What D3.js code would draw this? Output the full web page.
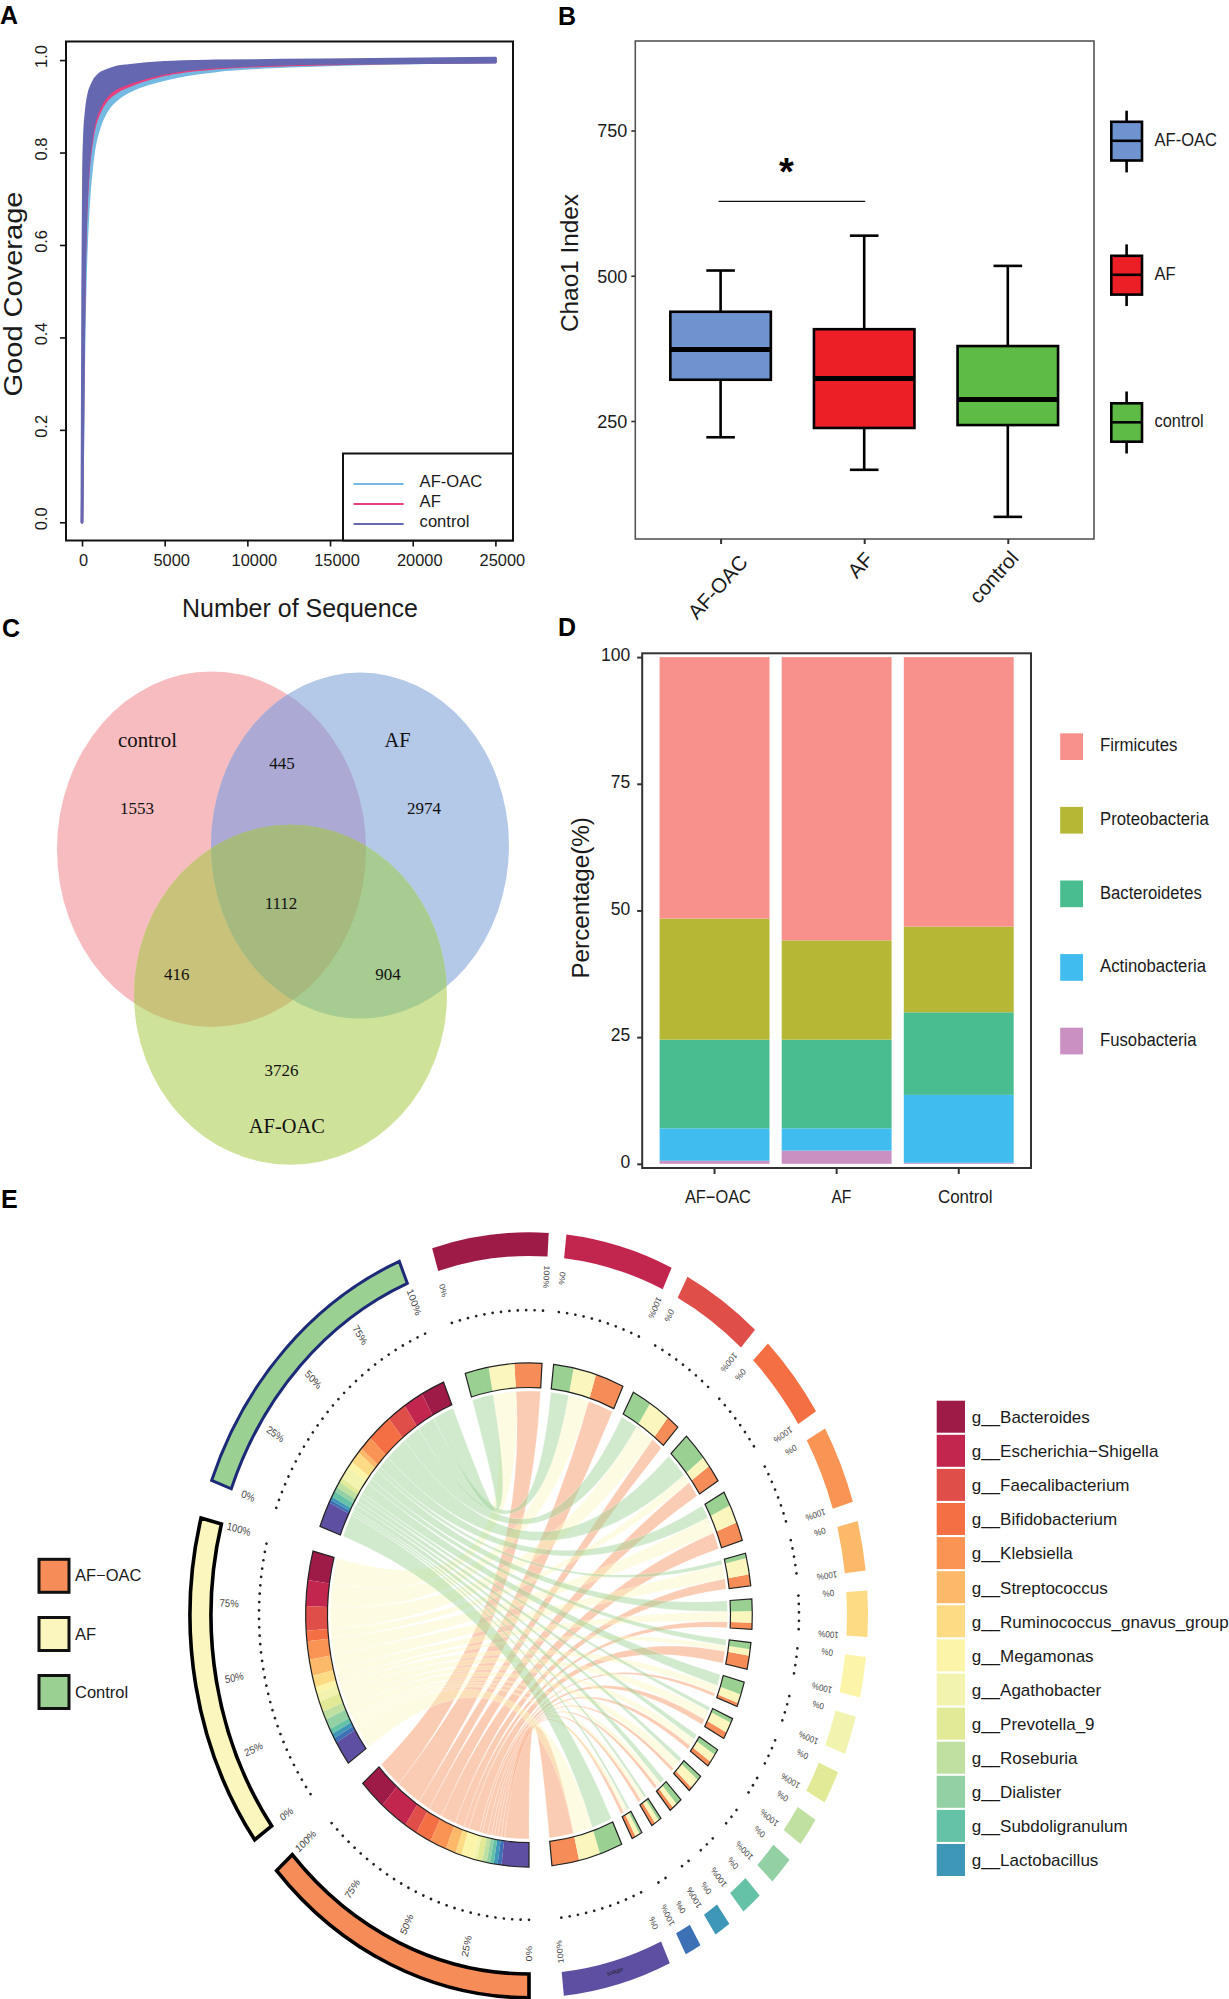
<!DOCTYPE html>
<html><head><meta charset="utf-8">
<script src="https://cdn.jsdelivr.net/npm/d3@7"></script>
<style>html,body{margin:0;padding:0;background:#fff}svg{display:block}</style>
</head><body><svg id="c" width="1229" height="1999" viewBox="0 0 1229 1999"></svg>
<script>
// ---------- DATA ----------
const rareDepth=[0,50,100,150,250,390,650,1080,1500,2160,2800,5000,8000,14500,25000];
const rareControlHigh=[0,.5,.76,.83,.885,.922,.95,.97,.977,.985,.988,.995,.998,1.0,1.004];
const rareControlLow=[0,.22,.42,.55,.69,.775,.85,.9,.923,.941,.95,.972,.985,.993,.996];
const rareAFLow=[0,.2,.39,.52,.66,.755,.835,.888,.913,.932,.943,.968,.982,.991,.996];
const rareOACLow=[0,.15,.31,.43,.57,.68,.785,.857,.89,.916,.931,.958,.976,.989,.996];
const rareLegend=["AF-OAC","AF","control"];
const rareXTicks=[0,5000,10000,15000,20000,25000];
const rareYTicks=[0,.2,.4,.6,.8,1];

const boxNames=["AF-OAC","AF","control"];
const boxWhiskLow=[222,166,85];
const boxQ1=[321,238,243];
const boxMedian=[373,323,287];
const boxQ3=[438,408,379];
const boxWhiskHigh=[509,569,517];
const boxYTicks=[250,500,750];
const sigLevel=628;

const vennLabels=["control","AF","AF-OAC"];
const vennCounts=[1553,445,2974,1112,416,904,3726];

const phylumNames=["Firmicutes","Proteobacteria","Bacteroidetes","Actinobacteria","Fusobacteria"];
const phylumGroups=["AF-OAC","AF","Control"];
const firmicutes=[51.6,55.9,53.2];
const proteobacteria=[23.9,19.6,16.9];
const bacteroidetes=[17.5,17.5,16.3];
const actinobacteria=[6.4,4.4,13.4];
const fusobacteria=[.6,2.6,.2];
const pctTicks=[0,25,50,75,100];

const chordGroups=["AF-OAC","AF","Control"];
const genera=["g__Bacteroides","g__Escherichia\u2212Shigella","g__Faecalibacterium","g__Bifidobacterium","g__Klebsiella","g__Streptococcus","g__Ruminococcus_gnavus_group","g__Megamonas","g__Agathobacter","g__Prevotella_9","g__Roseburia","g__Dialister","g__Subdoligranulum","g__Lactobacillus","","others"];
const genusControl=[6.15,5.2,5,6.5,3.35,1.15,2.75,1.55,2.95,1.05,1.35,1.1,1.45,.75,.7,5.95];
const genusAF=[6.7,5.95,5.6,2.45,4.25,3.75,2.65,1.45,2.05,2.45,1.95,2.35,1.25,1.1,1.15,5.6];
const genusOAC=[7.1,7.4,3.35,4.1,4.35,2.65,1.55,3.15,.85,1.55,1.15,.9,.95,1,1,7.1];
const genusColors=["#9f1b47","#c2264f","#e04e4a","#f46f43","#f99454","#fdb96a","#fddb84","#fcf5a9","#f3f3b0","#e3ea97","#bfe0a1","#93d0a3","#66c2a6","#3f97b8","#3d71b5","#5e4fa2"];
const groupColors=["#f68d59","#fbf6bd","#9ad193"];
const groupBorders=["#000","#000","#1c2a78"];

// ---------- HELPERS ----------
const svg=d3.select("#c");
const SANS="'Liberation Sans',Arial,sans-serif", SERIF="'Liberation Serif','Times New Roman',serif";
function T(g,x,y,s,o={}){
  const t=g.append("text").attr("x",x).attr("y",y).text(s)
    .attr("font-family",o.fam||SANS).attr("font-size",o.size||16)
    .attr("fill",o.fill||"#1a1a1a").attr("text-anchor",o.anchor||"start");
  if(o.weight)t.attr("font-weight",o.weight);
  if(o.dy)t.attr("dy",o.dy);
  if(o.len)t.attr("textLength",o.len).attr("lengthAdjust","spacingAndGlyphs");
  if(o.rot!==undefined)t.attr("transform",`rotate(${o.rot} ${x} ${y})`);
  return t;
}
function styleAxis(a,w,c){
  a.select(".domain").remove();
  a.selectAll(".tick line").attr("stroke",c).attr("stroke-width",w);
  a.selectAll("text").attr("font-family",SANS).attr("fill","#1a1a1a");
}
[["A",0,24],["B",558,24.5],["C",2,636.5],["D",558,636],["E",1,1208]].forEach(d=>T(svg,d[1],d[2],d[0],{size:25,weight:"bold",fill:"#000"}));

// ---------- PANEL A ----------
(function(){
  const x=d3.scaleLinear().domain([0,25000]).range([82,495.4]);
  const y=d3.scaleLinear().domain([0,1]).range([522.3,60.1]);
  const g=svg.append("g");
  const rows=rareDepth.map((d,i)=>i);
  const band=(hi,lo,col,sw)=>{
    g.append("path").attr("d",d3.area().x(i=>x(rareDepth[i])).y0(i=>y(lo[i])).y1(i=>y(hi[i])).curve(d3.curveMonotoneX)(rows))
      .attr("fill",col).attr("stroke",col).attr("stroke-width",sw).attr("stroke-linejoin","round");
  };
  band(rareAFLow,rareOACLow,"#74b9e2",2.4);
  band(rareControlLow,rareAFLow,"#e8407f",2.4);
  band(rareControlHigh,rareControlLow,"#6567b0",3);
  g.append("rect").attr("x",66).attr("y",41.5).attr("width",447).attr("height",499).attr("fill","none").attr("stroke","#111").attr("stroke-width",2);
  const ax=g.append("g").attr("transform","translate(0,540.5)").call(d3.axisBottom(x).tickValues(rareXTicks).tickSize(6).tickPadding(8).tickFormat(d3.format("d")));
  styleAxis(ax,1.6,"#111");
  ax.selectAll("text").attr("font-size",16.4).attr("dx",d=>d===0?1:6.5);
  const ay=g.append("g").attr("transform","translate(66,0)").call(d3.axisLeft(y).tickValues(rareYTicks).tickSize(6).tickFormat(d3.format(".1f")));
  styleAxis(ay,1.6,"#111");
  ay.selectAll("text").attr("font-size",16.4).attr("text-anchor","middle")
    .attr("x",0).attr("y",0).attr("transform","translate(-25,-4) rotate(-90)").attr("dy","0.35em");
  T(g,22,294,"Good Coverage",{size:25,anchor:"middle",len:205,rot:-90});
  T(g,300,617,"Number of Sequence",{size:26,anchor:"middle",len:236});
  g.append("rect").attr("x",343).attr("y",453.5).attr("width",170).attr("height",87).attr("fill","#fff").attr("stroke","#111").attr("stroke-width",2);
  ["#74b9e2","#e8407f","#6567b0"].forEach((c,i)=>{
    const ly=484+i*20;
    g.append("line").attr("x1",353.6).attr("x2",403.6).attr("y1",ly).attr("y2",ly).attr("stroke",c).attr("stroke-width",2.2);
    T(g,419.6,ly-3,rareLegend[i],{size:16.6,dy:"0.35em"});
  });
})();

// ---------- PANEL B ----------
(function(){
  const x=d3.scalePoint().domain(boxNames).range([720.6,1007.8]);
  const y=d3.scaleLinear().domain([250,750]).range([421,130.5]);
  const fills=["#6f93cf","#ed1f26","#5dbb46"];
  const bw=100.5, cap=28.6;
  const g=svg.append("g");
  g.append("rect").attr("x",635.3).attr("y",41).attr("width",458.7).attr("height",498).attr("fill","none").attr("stroke","#555").attr("stroke-width",1.6);
  boxNames.forEach((n,i)=>{
    const cx=x(n);
    const ln=(x1,y1,x2,y2,w)=>g.append("line").attr("x1",x1).attr("y1",y1).attr("x2",x2).attr("y2",y2).attr("stroke","#000").attr("stroke-width",w);
    ln(cx,y(boxWhiskLow[i]),cx,y(boxWhiskHigh[i]),2.6);
    ln(cx-cap/2,y(boxWhiskLow[i]),cx+cap/2,y(boxWhiskLow[i]),2.6);
    ln(cx-cap/2,y(boxWhiskHigh[i]),cx+cap/2,y(boxWhiskHigh[i]),2.6);
    g.append("rect").attr("x",cx-bw/2).attr("y",y(boxQ3[i])).attr("width",bw).attr("height",y(boxQ1[i])-y(boxQ3[i])).attr("fill",fills[i]).attr("stroke","#000").attr("stroke-width",2.6);
    ln(cx-bw/2,y(boxMedian[i]),cx+bw/2,y(boxMedian[i]),5);
  });
  g.append("line").attr("x1",x("AF-OAC")-2).attr("x2",x("AF")+1).attr("y1",y(sigLevel)).attr("y2",y(sigLevel)).attr("stroke","#111").attr("stroke-width",1.4);
  T(g,786.5,185,"*",{size:38,weight:"bold",anchor:"middle",fill:"#000"});
  const ay=g.append("g").attr("transform","translate(635.3,0)").call(d3.axisLeft(y).tickValues(boxYTicks).tickSize(4).tickPadding(4));
  styleAxis(ay,1.6,"#333");
  ay.selectAll("text").attr("font-size",18).attr("dy","0.35em");
  const ax=g.append("g").attr("transform","translate(0,539)").call(d3.axisBottom(x).tickSize(5).tickFormat(""));
  styleAxis(ax,2,"#333");
  const off=[[-3,587],[-4,565],[-14,577]];
  boxNames.forEach((n,i)=>T(g,x(n)+off[i][0],off[i][1],n,{size:20.5,anchor:"middle",dy:"0.35em",rot:-48}));
  T(g,578,263,"Chao1 Index",{size:23,anchor:"middle",len:138,rot:-90});
  const legendY=[[121.8,160.5,110.7,172.4,140.8],[255.8,294.6,244.4,306,274.8],[403.3,441.7,391.5,453.5,422.3]];
  boxNames.forEach((n,i)=>{
    const L=legendY[i], lx=1126.6;
    g.append("line").attr("x1",lx).attr("x2",lx).attr("y1",L[2]).attr("y2",L[3]).attr("stroke","#000").attr("stroke-width",2.6);
    g.append("rect").attr("x",1111.3).attr("y",L[0]).attr("width",30.7).attr("height",L[1]-L[0]).attr("fill",fills[i]).attr("stroke","#000").attr("stroke-width",2.6);
    g.append("line").attr("x1",1111.3).attr("x2",1142).attr("y1",L[4]).attr("y2",L[4]).attr("stroke","#000").attr("stroke-width",2.6);
    T(g,1154.6,L[4]-1,n,{size:17.5,dy:"0.35em",len:[62.4,21,49][i]});
  });
})();

// ---------- PANEL C ----------
(function(){
  const E={control:[211.5,849.2,154.5,177.8],AF:[360,845.6,149,173],OAC:[290.5,994.8,156.5,170]};
  const ell=(s,k)=>s.append("ellipse").attr("cx",E[k][0]).attr("cy",E[k][1]).attr("rx",E[k][2]).attr("ry",E[k][3]);
  const defs=svg.append("defs");
  ["control","AF","OAC"].forEach(k=>ell(defs.append("clipPath").attr("id","clip"+k),k));
  const g=svg.append("g");
  ell(g,"control").attr("fill","#f7bcbf");
  ell(g,"AF").attr("fill","#b4c8e8");
  ell(g,"OAC").attr("fill","#cfe29a");
  const ov=(a,b,c)=>ell(g.append("g").attr("clip-path",`url(#clip${b})`),a).attr("fill",c);
  ov("control","AF","#aca9d4");
  ov("control","OAC","#c9c27a");
  ov("AF","OAC","#a6cc92");
  ell(g.append("g").attr("clip-path","url(#clipOAC)").append("g").attr("clip-path","url(#clipAF)"),"control").attr("fill","#a6b97f");
  const nameAt=[[147.5,746.6,59],[397.5,746.6,26],[286.8,1133,76]];
  vennLabels.forEach((n,i)=>T(g,nameAt[i][0],nameAt[i][1],n,{fam:SERIF,size:21,anchor:"middle",len:nameAt[i][2],fill:"#111"}));
  const numAt=[[137,814],[282,769],[424,814],[281,909.4],[176.8,980],[388,980],[281.4,1076]];
  vennCounts.forEach((n,i)=>T(g,numAt[i][0],numAt[i][1],n,{fam:SERIF,size:17,anchor:"middle",fill:"#111"}));
})();

// ---------- PANEL D ----------
(function(){
  const rows=phylumGroups.map((n,i)=>({name:n,Firmicutes:firmicutes[i],Proteobacteria:proteobacteria[i],Bacteroidetes:bacteroidetes[i],Actinobacteria:actinobacteria[i],Fusobacteria:fusobacteria[i]}));
  const colors=["#f8918c","#b5b735","#4abd90","#40bcee","#cb90c2"];
  const x=d3.scaleBand().domain(phylumGroups).range([653.5,1019.8]).paddingInner(.1).paddingOuter(.05);
  const y=d3.scaleLinear().domain([0,100]).range([1163.8,657.1]);
  const stack=d3.stack().keys(phylumNames.slice().reverse())(rows);
  const g=svg.append("g");
  stack.forEach(s=>{
    const c=colors[phylumNames.indexOf(s.key)];
    g.append("g").selectAll("rect").data(s).join("rect")
      .attr("x",d=>x(d.data.name)).attr("width",x.bandwidth())
      .attr("y",d=>y(d[1])).attr("height",d=>y(d[0])-y(d[1])).attr("fill",c);
  });
  g.append("rect").attr("x",642.2).attr("y",653.3).attr("width",388.8).attr("height",514.7).attr("fill","none").attr("stroke","#333").attr("stroke-width",2);
  const ay=g.append("g").attr("transform","translate(642.2,0)").call(d3.axisLeft(y).tickValues(pctTicks).tickSize(5).tickPadding(7));
  styleAxis(ay,2,"#333");
  ay.selectAll("text").attr("font-size",17.5).attr("dy","0.22em");
  const ax=g.append("g").attr("transform","translate(0,1168)").call(d3.axisBottom(x).tickSize(6).tickFormat(""));
  styleAxis(ax,2,"#333");
  const lw=[66,20,54.6], lo=[3.4,4.8,6.5];
  phylumGroups.forEach((n,i)=>T(g,x(n)+x.bandwidth()/2+lo[i],1203,n==="AF-OAC"?"AF\u2212OAC":n,{size:18,anchor:"middle",len:lw[i]}));
  T(g,589,897.8,"Percentage(%)",{size:23,anchor:"middle",len:161.5,rot:-90});
  const tw=[77.5,108.7,101.8,106,96.6];
  phylumNames.forEach((n,i)=>{
    const ly=733.3+i*73.6;
    g.append("rect").attr("x",1060.2).attr("y",ly).attr("width",22.8).attr("height",26.7).attr("fill",colors[i]);
    T(g,1100,ly+11.7,n,{size:18,dy:"0.35em",len:tw[i]});
  });
})();

// ---------- PANEL E ----------
(function(){
  const cx=529, cy=1615, stretch=1.129;
  const rOutOut=339,rOutIn=318,rMidOut=223.3,rMidIn=201.5,rRib=198.5,rDots=270,rLab=300;
  const flows=[genusOAC,genusAF,genusControl];
  const nG=genera.length;
  const groupTotals=flows.map(f=>d3.sum(f));
  const genusTotals=genera.map((_,i)=>d3.sum(flows,f=>f[i]));
  const bigGap=5.9, smallGap=3.0;
  const gapSum=bigGap*4+smallGap*(nG-1);
  const unit=(360-gapSum)/(d3.sum(groupTotals)+d3.sum(genusTotals));
  const rad=d=>(d+90)*Math.PI/180;  // 0 deg = east, clockwise
  let a=90;
  const groupSec=chordGroups.map((n,i)=>{const s=a;a+=groupTotals[i]*unit;const e=a;a+=bigGap;return{s,e};});
  const genusSec=genera.map((n,i)=>{const s=a;a+=genusTotals[i]*unit;const e=a;a+=(i<nG-1?smallGap:bigGap);return{s,e};});

  const groupSeg=chordGroups.map((_,gi)=>{
    let p=groupSec[gi].s;const out={};
    for(let i=nG-1;i>=0;i--){const v=flows[gi][i]*unit;out[i]={s:p,e:p+v};p+=v;}
    return out;
  });
  const genusSeg=genera.map((_,i)=>{
    let p=genusSec[i].s;const out={};
    [2,1,0].forEach(gi=>{const v=flows[gi][i]*unit;out[gi]={s:p,e:p+v};p+=v;});
    return out;
  });

  const g=svg.append("g").attr("transform",`translate(${cx},${cy}) scale(1,${stretch})`);
  const arc=(r0,r1,s,e)=>d3.arc()({innerRadius:r0,outerRadius:r1,startAngle:rad(s),endAngle:rad(e)});

  const ribbon=d3.ribbon().radius(rRib);
  const rib=g.append("g");
  [0,1,2].forEach(gi=>{
    for(let i=nG-1;i>=0;i--){
      rib.append("path").attr("d",ribbon({
        source:{startAngle:rad(groupSeg[gi][i].s),endAngle:rad(groupSeg[gi][i].e)},
        target:{startAngle:rad(genusSeg[i][gi].s),endAngle:rad(genusSeg[i][gi].e)}}))
        .attr("fill",groupColors[gi]).attr("fill-opacity",.45)
        .attr("stroke","#fff").attr("stroke-opacity",.55).attr("stroke-width",.45);
    }
  });

  const mid=g.append("g");
  chordGroups.forEach((_,gi)=>{
    genera.forEach((_,i)=>mid.append("path").attr("d",arc(rMidIn,rMidOut,groupSeg[gi][i].s,groupSeg[gi][i].e)).attr("fill",genusColors[i]));
    mid.append("path").attr("d",arc(rMidIn,rMidOut,groupSec[gi].s,groupSec[gi].e)).attr("fill","none").attr("stroke","#222").attr("stroke-width",1.2).style("vector-effect","non-scaling-stroke");
  });
  genera.forEach((_,i)=>{
    [0,1,2].forEach(gi=>mid.append("path").attr("d",arc(rMidIn,rMidOut,genusSeg[i][gi].s,genusSeg[i][gi].e)).attr("fill",groupColors[gi]));
    mid.append("path").attr("d",arc(rMidIn,rMidOut,genusSec[i].s,genusSec[i].e)).attr("fill","none").attr("stroke","#222").attr("stroke-width",1.2).style("vector-effect","non-scaling-stroke");
  });

  const outer=g.append("g");
  chordGroups.forEach((_,gi)=>outer.append("path").attr("d",arc(rOutIn,rOutOut,groupSec[gi].s,groupSec[gi].e))
    .attr("fill",groupColors[gi]).attr("stroke",groupBorders[gi]).attr("stroke-width",gi===2?3:3.6).attr("stroke-linejoin","miter").style("vector-effect","non-scaling-stroke"));
  genera.forEach((_,i)=>outer.append("path").attr("d",arc(rOutIn,rOutOut,genusSec[i].s,genusSec[i].e)).attr("fill",genusColors[i]));

  const dots=g.append("g");
  const radial=d3.lineRadial().angle(d=>rad(d)).radius(rDots);
  const label=(d,s,size)=>{
    const t=d*Math.PI/180, px=rLab*Math.cos(t), py=rLab*Math.sin(t);
    T(dots,px,py,s,{size,anchor:"middle",dy:"0.35em",fill:"#444",rot:d+180});
  };
  const axisFor=(sec,pcts,size)=>{
    dots.append("path").attr("d",radial(d3.range(0,41).map(k=>sec.s+(sec.e-sec.s)*k/40)))
      .attr("fill","none").attr("stroke","#222").attr("stroke-width",2.7).attr("stroke-linecap","round")
      .attr("stroke-dasharray","0.01 8.4").style("vector-effect","non-scaling-stroke");
    pcts.forEach(p=>label(sec.s+(sec.e-sec.s)*p/100,p+"%",size));
  };
  groupSec.forEach(s=>axisFor(s,[0,25,50,75,100],9.5));
  genusSec.forEach(s=>axisFor(s,[0,100],8));
  const oth=genusSec[nG-1], om=(oth.s+oth.e)/2, omr=om*Math.PI/180;
  T(dots,328*Math.cos(omr),328*Math.sin(omr),"others",{size:6,anchor:"middle",dy:"0.35em",fill:"#222",rot:om+90});

  const lg=svg.append("g");
  const ly=[1559.3,1617.5,1675.5], ty=[1575.7,1634,1692.7];
  [0,1,2].forEach(i=>{
    lg.append("rect").attr("x",39).attr("y",ly[i]).attr("width",30).attr("height",33).attr("fill",groupColors[i]).attr("stroke","#111").attr("stroke-width",3);
    T(lg,75,ty[i],i===0?"AF\u2212OAC":chordGroups[i],{size:16.5,dy:"0.35em"});
  });
  genera.slice(0,14).forEach((n,i)=>{
    const y0=1400.7+i*34.1;
    lg.append("rect").attr("x",936.7).attr("y",y0).attr("width",28.3).attr("height",32).attr("fill",genusColors[i]);
    T(lg,971.7,y0+16.4,n,{size:17,dy:"0.35em"});
  });
})();
</script></body></html>
